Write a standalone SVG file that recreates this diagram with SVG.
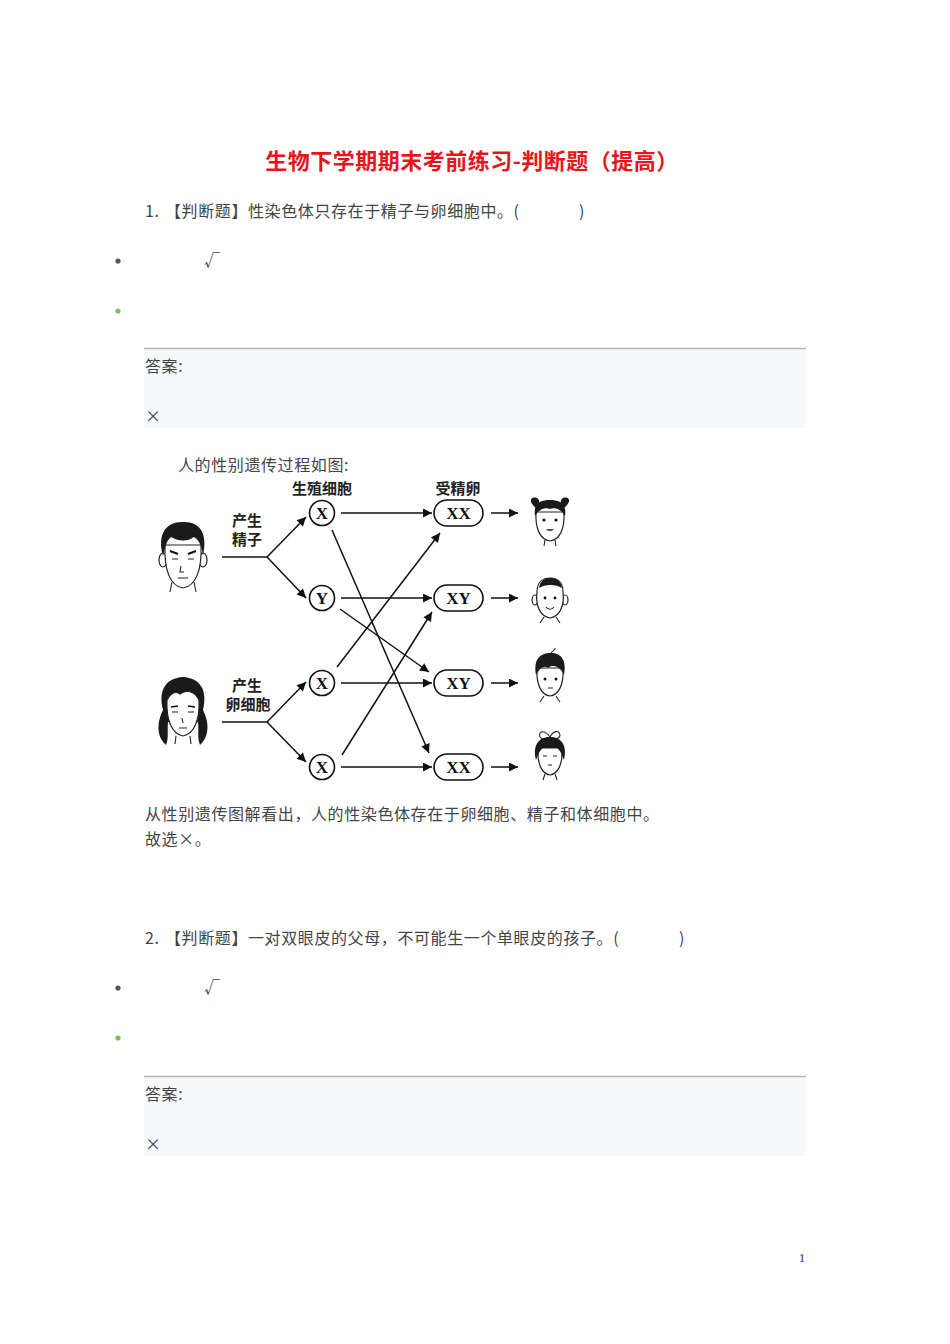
<svg xmlns="http://www.w3.org/2000/svg" width="950" height="1344" viewBox="0 0 950 1344">
<style>
.t{font-family:"Noto Sans CJK SC","Noto Sans",sans-serif;font-size:16px;fill:#444;letter-spacing:0.6px}
.title{font-family:"Noto Sans CJK SC",sans-serif;font-size:22px;font-weight:bold;fill:#e8141a;letter-spacing:0.5px}
.lab{font-family:"Noto Sans CJK SC",sans-serif;font-size:15px;font-weight:bold;fill:#222;text-anchor:middle}
.chr{font-family:"Liberation Serif",serif;font-size:17px;font-weight:bold;fill:#111;text-anchor:middle}
.node{fill:#fff;stroke:#111;stroke-width:1.6}
.ln{stroke:#111;stroke-width:1.5;fill:none}
.ar{stroke:#111;stroke-width:1.5;fill:none;marker-end:url(#ah)}
.box{fill:#f5f9fc}
.face{fill:#fff;stroke:#222;stroke-width:1.2}
.hair{fill:#1a1a1a}
.fl{stroke:#222;stroke-width:1.1;fill:none}
</style>
<defs>
<marker id="ah" viewBox="0 0 10 10" refX="10" refY="5" markerWidth="11" markerHeight="9" markerUnits="userSpaceOnUse" orient="auto">
<path d="M0,0 L10,5 L0,10 Z" fill="#111"/>
</marker>
</defs>
<rect width="950" height="1344" fill="#fff"/>

<text class="title" x="472" y="169" text-anchor="middle">生物下学期期末考前练习-判断题（提高）</text>

<g id="q1">
<text class="t" x="145" y="217">1.</text>
<text class="t" x="165" y="217">【判断题】性染色体只存在于精子与卵细胞中。(</text>
<text class="t" x="579" y="217">)</text>
<circle cx="118" cy="261" r="2.6" fill="#555"/>
<text class="t" x="204" y="266">√</text>
<circle cx="118" cy="311" r="2.6" fill="#7cbf5c"/>
<rect class="box" x="144" y="348" width="662" height="80"/>
<line x1="144" y1="348.5" x2="806" y2="348.5" stroke="#b5b5b5" stroke-width="1.5"/>
<text class="t" x="145" y="372">答案:</text>
<text class="t" x="145" y="422">×</text>
<text class="t" x="178" y="471">人的性别遗传过程如图:</text>
</g>

<g id="headers">
<text class="lab" x="322" y="494">生殖细胞</text>
<text class="lab" x="458" y="494">受精卵</text>
<text class="lab" x="247" y="526">产生</text>
<text class="lab" x="247" y="545">精子</text>
<text class="lab" x="247" y="691">产生</text>
<text class="lab" x="248" y="710">卵细胞</text>
</g>

<g id="connectors">
<polyline class="ln" points="222,557 267,557"/>
<line class="ar" x1="267" y1="557" x2="306" y2="517"/>
<line class="ar" x1="267" y1="557" x2="306" y2="598"/>
<polyline class="ln" points="222,722 267,722"/>
<line class="ar" x1="267" y1="722" x2="306" y2="682"/>
<line class="ar" x1="267" y1="722" x2="306" y2="762"/>
<line class="ar" x1="341" y1="513" x2="432" y2="513"/>
<line class="ar" x1="341" y1="598" x2="432" y2="598"/>
<line class="ar" x1="341" y1="683" x2="432" y2="683"/>
<line class="ar" x1="341" y1="767" x2="432" y2="767"/>
<line class="ar" x1="332" y1="530" x2="429" y2="753"/>
<line class="ar" x1="340" y1="609" x2="429" y2="672"/>
<line class="ar" x1="337" y1="667" x2="440" y2="533"/>
<line class="ar" x1="342" y1="755" x2="432" y2="612"/>
<line class="ar" x1="491" y1="513" x2="518" y2="513"/>
<line class="ar" x1="491" y1="598" x2="518" y2="598"/>
<line class="ar" x1="491" y1="683" x2="518" y2="683"/>
<line class="ar" x1="491" y1="767" x2="518" y2="767"/>
</g>

<g id="gamete-x-male"><circle class="node" cx="322" cy="513" r="12.5"/><text class="chr" x="322" y="519">X</text></g>
<g id="gamete-y-male"><circle class="node" cx="322" cy="598" r="12.5"/><text class="chr" x="322" y="604">Y</text></g>
<g id="gamete-x-female1"><circle class="node" cx="322" cy="683" r="12.5"/><text class="chr" x="322" y="689">X</text></g>
<g id="gamete-x-female2"><circle class="node" cx="322" cy="767" r="12.5"/><text class="chr" x="322" y="773">X</text></g>

<g id="zygote-xx1"><rect class="node" x="434" y="500" width="49" height="26" rx="13"/><text class="chr" x="458.5" y="519">XX</text></g>
<g id="zygote-xy1"><rect class="node" x="434" y="585" width="49" height="26" rx="13"/><text class="chr" x="458.5" y="604">XY</text></g>
<g id="zygote-xy2"><rect class="node" x="434" y="670" width="49" height="26" rx="13"/><text class="chr" x="458.5" y="689">XY</text></g>
<g id="zygote-xx2"><rect class="node" x="434" y="754" width="49" height="26" rx="13"/><text class="chr" x="458.5" y="773">XX</text></g>

<g id="father">
<path class="fl" d="M172,582 L170,592 M194,582 L196,592"/>
<ellipse class="face" cx="163" cy="560" rx="4" ry="7"/>
<ellipse class="face" cx="203" cy="560" rx="4" ry="7"/>
<path class="face" d="M165,545 C164,570 170,586 183,588 C196,586 202,570 201,545 Z"/>
<path class="hair" d="M163,556 C157,534 166,522 182,522 C200,521 208,533 203,556 C202,546 199,540 194,537 C186,543 176,540 171,537 C166,541 165,548 163,556 Z"/>
<path d="M170,551 L178,554 M188,554 L196,551" stroke="#111" stroke-width="2.2"/>
<path class="fl" d="M172,559 L178,559 M188,559 L194,559"/>
<path class="fl" d="M181,566 L180,572 L184,572 M178,578 L188,578"/>
</g>

<g id="mother">
<path class="hair" d="M166,745 C155,735 158,720 163,710 C158,690 166,678 183,677 C200,678 208,690 203,710 C208,720 211,735 200,745 C197,738 199,730 198,722 L168,722 C167,730 169,738 166,745 Z"/>
<path class="face" d="M167,700 C166,720 172,734 183,736 C194,734 200,720 199,700 C194,690 186,690 180,694 C175,690 170,694 167,700 Z"/>
<path d="M171,707 L178,706 M188,706 L195,707" stroke="#111" stroke-width="1.6"/>
<path class="fl" d="M172,712 L178,712 M188,712 L194,712 M182,718 L183,723 M179,728 L187,728"/>
<path class="fl" d="M176,736 L175,744 M190,736 L191,744"/>
</g>

<g id="child-girl1">
<path class="hair" d="M536,508 C528,502 530,496 537,498 C540,500 540,504 538,508 Z M564,508 C572,502 570,496 563,498 C560,500 560,504 562,508 Z"/>
<path class="face" d="M536,512 C535,530 541,540 550,541 C559,540 565,530 564,512 Z"/>
<path class="hair" d="M535,516 C533,503 541,500 550,500 C559,500 567,503 565,516 C561,509 555,507 550,509 C545,507 539,509 535,516 Z"/>
<circle cx="544" cy="520" r="1.6" fill="#111"/><circle cx="556" cy="520" r="1.6" fill="#111"/>
<path d="M546,529 C548,532 552,532 554,529 Z" fill="#555"/>
<path class="fl" d="M545,540 L544,546 M555,540 L556,546"/>
</g>

<g id="child-boy1">
<ellipse class="face" cx="535" cy="600" rx="3" ry="5"/><ellipse class="face" cx="565" cy="600" rx="3" ry="5"/>
<path class="face" d="M537,592 C535,608 542,617 550,618 C558,617 565,608 563,592 C563,582 557,578 550,578 C543,578 537,582 537,592 Z"/>
<path class="hair" d="M539,588 C540,580 546,578 550,578 C555,578 561,580 562,588 C556,584 545,584 539,588 Z"/>
<circle cx="545" cy="598" r="1.4" fill="#111"/><circle cx="555" cy="598" r="1.4" fill="#111"/>
<path class="fl" d="M546,607 C548,610 552,610 554,607"/>
<path class="fl" d="M544,617 L540,623 M556,617 L560,623"/>
</g>

<g id="child-boy2">
<path class="face" d="M537,668 C536,686 542,695 550,696 C558,695 564,686 563,668 Z"/>
<path class="hair" d="M536,675 C533,658 541,653 551,653 C561,653 567,660 564,675 C560,666 553,664 548,668 C545,665 540,667 536,675 Z"/>
<path class="fl" d="M551,653 C553,650 556,650 555,648"/>
<circle cx="545" cy="679" r="1.5" fill="#111"/><circle cx="556" cy="679" r="1.5" fill="#111"/>
<path class="fl" d="M548,688 L553,688 M544,696 L540,702 M556,696 L560,702"/>
</g>

<g id="child-girl2">
<path class="fl" d="M550,737 C544,729 538,731 540,737 C542,740 547,739 550,737 C553,731 560,729 560,736 C558,740 553,739 550,737"/>
<path class="face" d="M538,748 C537,766 543,774 550,775 C557,774 563,766 562,748 Z"/>
<path class="hair" d="M536,760 C532,744 540,737 550,737 C560,737 568,744 564,760 C561,752 559,749 557,748 L543,748 C541,749 539,752 536,760 Z"/>
<path class="fl" d="M543,756 L547,756 M553,756 L557,756 M548,765 L552,765"/>
<path class="fl" d="M545,774 L543,780 M555,774 L557,780"/>
</g>

<g id="explanation">
<text class="t" x="145" y="820">从性别遗传图解看出，人的性染色体存在于卵细胞、精子和体细胞中。</text>
<text class="t" x="145" y="845">故选×。</text>
</g>

<g id="q2">
<text class="t" x="145" y="944">2.</text>
<text class="t" x="165" y="944">【判断题】一对双眼皮的父母，不可能生一个单眼皮的孩子。(</text>
<text class="t" x="679" y="944">)</text>
<circle cx="118" cy="988" r="2.6" fill="#555"/>
<text class="t" x="204" y="993">√</text>
<circle cx="118" cy="1038" r="2.6" fill="#7cbf5c"/>
<rect class="box" x="144" y="1076" width="662" height="80"/>
<line x1="144" y1="1076.5" x2="806" y2="1076.5" stroke="#b5b5b5" stroke-width="1.5"/>
<text class="t" x="145" y="1100">答案:</text>
<text class="t" x="145" y="1150">×</text>
</g>

<text x="802" y="1262" font-family="Liberation Serif, serif" font-size="13" fill="#333" text-anchor="middle">1</text>
</svg>
